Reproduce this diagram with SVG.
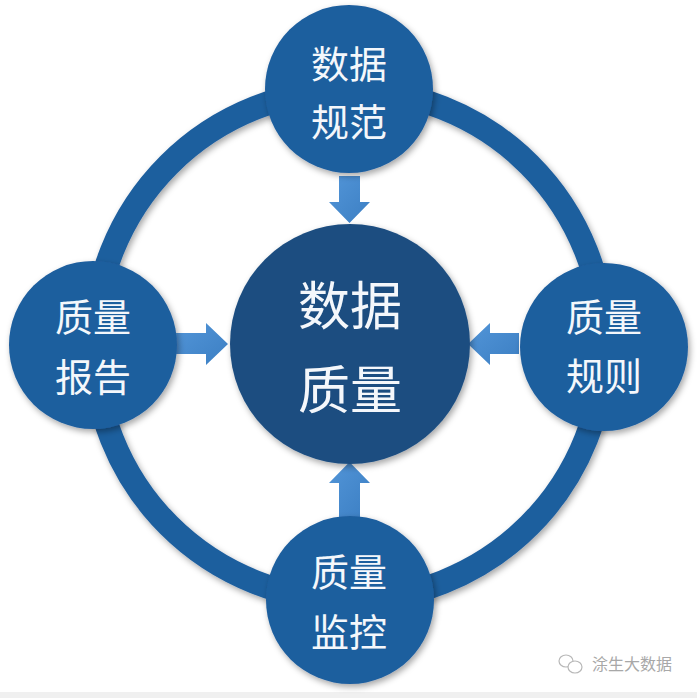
<svg xmlns="http://www.w3.org/2000/svg" width="697" height="698" viewBox="0 0 697 698">
<style>
.node{fill:#1f5e9e;}
.core{fill:#1d4e80;}
.t{font-family:"Noto Sans CJK SC","Noto Sans",sans-serif;fill:#f4f7fb;text-anchor:middle;dominant-baseline:central;}
.s{font-size:38px;}
.b{font-size:52px;}
.arrow{fill:url(#ag);}
</style>
<defs>
<filter id="sh" x="-20%" y="-20%" width="140%" height="140%">
<feDropShadow dx="2" dy="3" stdDeviation="3" flood-color="#000" flood-opacity="0.35"/>
</filter>
<linearGradient id="ag" x1="0" y1="0" x2="1" y2="1">
<stop offset="0" stop-color="#5295d8"/>
<stop offset="1" stop-color="#3c7fc3"/>
</linearGradient>
</defs>
<rect width="697" height="698" fill="#ffffff"/>
<rect x="0" y="692" width="697" height="6" fill="#f0f0f0"/>
<g id="connectors">
<circle cx="349" cy="345" r="255" fill="none" stroke="#1f5e9e" stroke-width="24" filter="url(#sh)"/>
<polygon class="arrow" points="339,176 360,176 360,202 370,202 349.5,223 329,202 339,202"/>
<polygon class="arrow" points="339,517 360,517 360,483 370,483 349.5,462 329,483 339,483"/>
<polygon class="arrow" points="176,333 206,333 206,323 228,344 206,365 206,354 176,354"/>
<polygon class="arrow" points="519,333 490,333 490,323 468,344 490,365 490,354 519,354"/>
</g>
<g id="n-top">
<circle class="node" cx="349" cy="89" r="84" filter="url(#sh)"/>
<text class="t s" x="349" y="61">数据</text>
<text class="t s" x="349" y="119">规范</text>
</g>
<g id="n-left">
<circle class="node" cx="93" cy="345" r="84" filter="url(#sh)"/>
<text class="t s" x="93" y="314">质量</text>
<text class="t s" x="93" y="374">报告</text>
</g>
<g id="n-right">
<circle class="node" cx="604" cy="347" r="84" filter="url(#sh)"/>
<text class="t s" x="604" y="314">质量</text>
<text class="t s" x="604" y="373">规则</text>
</g>
<g id="n-bottom">
<circle class="node" cx="350" cy="600" r="84" filter="url(#sh)"/>
<text class="t s" x="349" y="569">质量</text>
<text class="t s" x="349" y="629">监控</text>
</g>
<g id="n-center">
<circle class="core" cx="350" cy="344" r="120" filter="url(#sh)"/>
<text class="t b" x="350" y="302">数据</text>
<text class="t b" x="350" y="386">质量</text>
</g>
<g id="watermark">
<ellipse cx="566" cy="661" rx="7" ry="6" fill="none" stroke="#b8b8b8" stroke-width="1.2"/>
<ellipse cx="575" cy="667" rx="7" ry="6" fill="#fff" stroke="#b8b8b8" stroke-width="1.2"/>
<text x="592" y="663" font-family="Noto Sans CJK SC,sans-serif" font-size="16" fill="#a8a8a8" dominant-baseline="central">涂生大数据</text>
</g>
</svg>
